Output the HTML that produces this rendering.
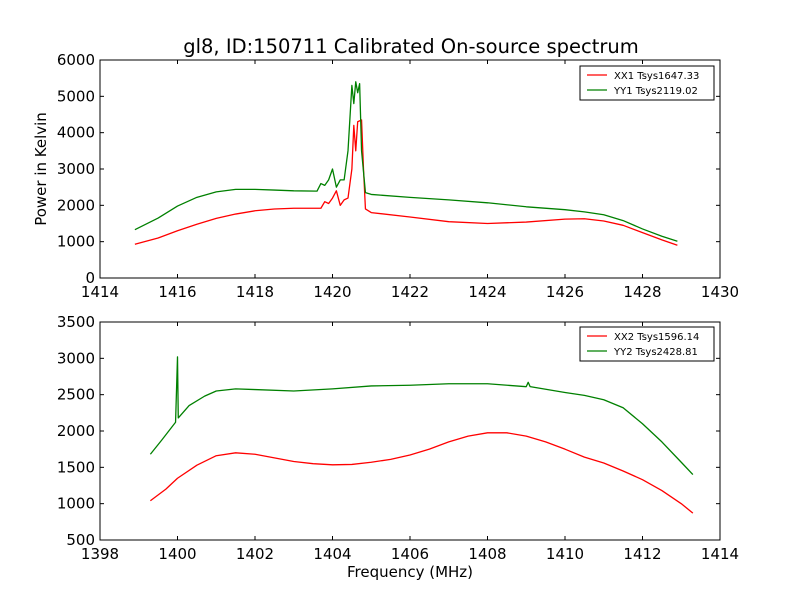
<!DOCTYPE html>
<html><head><meta charset="utf-8"><style>
body{margin:0;background:#fff;}
svg{display:block;font-family:"DejaVu Sans","Liberation Sans",sans-serif;}
</style></head><body>
<svg id="c" width="800" height="600"></svg>
<script>
const topXX1x=[1414.9,1415.5,1416,1416.5,1417,1417.5,1418,1418.5,1419,1419.5,1419.7,1419.8,1419.9,1420.0,1420.1,1420.2,1420.3,1420.4,1420.5,1420.55,1420.6,1420.65,1420.75,1420.8,1420.85,1421,1422,1423,1424,1425,1426,1426.5,1427,1427.5,1428,1428.5,1428.9];
const topXX1y=[930,1100,1300,1480,1640,1760,1850,1900,1920,1920,1920,2100,2050,2200,2400,2000,2150,2200,3000,4200,3500,4300,4350,3000,1900,1800,1680,1550,1500,1540,1620,1630,1570,1450,1250,1050,900];
const topYY1x=[1414.9,1415.5,1416,1416.5,1417,1417.5,1418,1418.5,1419,1419.6,1419.7,1419.8,1419.9,1420.0,1420.1,1420.2,1420.3,1420.4,1420.5,1420.55,1420.6,1420.65,1420.7,1420.75,1420.85,1421,1422,1423,1424,1425,1426,1426.5,1427,1427.5,1428,1428.5,1428.9];
const topYY1y=[1330,1650,1980,2220,2370,2440,2440,2420,2400,2390,2600,2550,2700,3000,2500,2700,2700,3500,5300,4800,5400,5100,5350,3500,2350,2300,2220,2150,2070,1960,1880,1820,1740,1580,1350,1150,1010];
const botXX2x=[1399.3,1399.7,1400,1400.5,1401,1401.5,1402,1402.5,1403,1403.5,1404,1404.5,1405,1405.5,1406,1406.5,1407,1407.5,1408,1408.5,1409,1409.5,1410,1410.5,1411,1411.5,1412,1412.5,1413,1413.3];
const botXX2y=[1040,1200,1350,1530,1660,1700,1680,1630,1580,1550,1535,1540,1570,1610,1670,1750,1850,1930,1975,1975,1930,1850,1750,1640,1560,1450,1330,1180,1000,870];
const botYY2x=[1399.3,1399.6,1399.95,1400,1400.02,1400.3,1400.7,1401,1401.5,1402,1403,1404,1405,1406,1407,1408,1409,1409.05,1409.1,1410,1410.5,1411,1411.5,1412,1412.5,1413,1413.3];
const botYY2y=[1680,1880,2120,3020,2180,2350,2480,2550,2580,2570,2550,2580,2620,2630,2650,2650,2610,2670,2610,2530,2490,2430,2320,2100,1850,1570,1400];
const topXTicks=[1414,1416,1418,1420,1422,1424,1426,1428,1430];
const topYTicks=[0,1000,2000,3000,4000,5000,6000];
const botXTicks=[1398,1400,1402,1404,1406,1408,1410,1412,1414];
const botYTicks=[500,1000,1500,2000,2500,3000,3500];

const svg=document.getElementById('c');
const NS='http://www.w3.org/2000/svg';
function mk(t,a,p){const e=document.createElementNS(NS,t);for(const k in a)e.setAttribute(k,a[k]);(p||svg).appendChild(e);return e;}

function panel(name,x0,x1,y0,y1,L,T,R,B,xt,yt,series,legend){
  const g=mk('g',{});
  
  
  const sx=v=>L+(v-x0)/(x1-x0)*(R-L);
  const sy=v=>B-(v-y0)/(y1-y0)*(B-T);
  series.forEach(s=>{
    let d='';s.x.forEach((v,i)=>{d+=(i?'L':'M')+sx(v).toFixed(2)+','+sy(s.y[i]).toFixed(2);});
    const p=mk('path',{d:d,fill:'none',stroke:s.c,'stroke-width':1.3,'stroke-linejoin':'round'},g);
    
    
  });
  const f=mk('rect',{x:L,y:T,width:R-L,height:B-T,fill:'none',stroke:'#000','stroke-width':1},g);
  
  
  xt.forEach(v=>{const X=sx(v);
    mk('line',{x1:X,x2:X,y1:B,y2:B-4,stroke:'#000'},g);mk('line',{x1:X,x2:X,y1:T,y2:T+4,stroke:'#000'},g);
    const t=mk('text',{x:X,y:B+19,'text-anchor':'middle','font-size':15},g);t.textContent=v;
    
    });
  yt.forEach(v=>{const Y=sy(v);
    mk('line',{x1:L,x2:L+4,y1:Y,y2:Y,stroke:'#000'},g);mk('line',{x1:R,x2:R-4,y1:Y,y2:Y,stroke:'#000'},g);
    const t=mk('text',{x:L-5,y:Y+5,'text-anchor':'end','font-size':15},g);t.textContent=v;
    
    });
  const lg=mk('g',{},g);
  
  
  mk('rect',{x:580,y:legend.y,width:134,height:34,fill:'#fff',stroke:'#000'},lg);
  series.forEach((s,i)=>{const yy=legend.y+9+i*15;
    mk('line',{x1:587,x2:607,y1:yy,y2:yy,stroke:s.c,'stroke-width':1.3},lg);
    const t=mk('text',{x:614,y:yy+4,'font-size':10},lg);t.textContent=s.label;
    
    });
}
panel('top',1414,1430,0,6000,100,60,720,278,topXTicks,topYTicks,
 [{n:'xx1',x:topXX1x,y:topXX1y,c:'#ff0000',label:'XX1 Tsys1647.33'},{n:'yy1',x:topYY1x,y:topYY1y,c:'#008000',label:'YY1 Tsys2119.02'}],{y:66});
panel('bottom',1398,1414,500,3500,100,322,720,540,botXTicks,botYTicks,
 [{n:'xx2',x:botXX2x,y:botXX2y,c:'#ff0000',label:'XX2 Tsys1596.14'},{n:'yy2',x:botYY2x,y:botYY2y,c:'#008000',label:'YY2 Tsys2428.81'}],{y:327});
let t=mk('text',{x:411,y:53,'text-anchor':'middle','font-size':19.5});t.textContent='gl8, ID:150711 Calibrated On-source spectrum';


t=mk('text',{x:0,y:0,'text-anchor':'middle','font-size':15,transform:'translate(46,169) rotate(-90)'});t.textContent='Power in Kelvin';


t=mk('text',{x:410,y:577,'text-anchor':'middle','font-size':15});t.textContent='Frequency (MHz)';


</script>
</body></html>
